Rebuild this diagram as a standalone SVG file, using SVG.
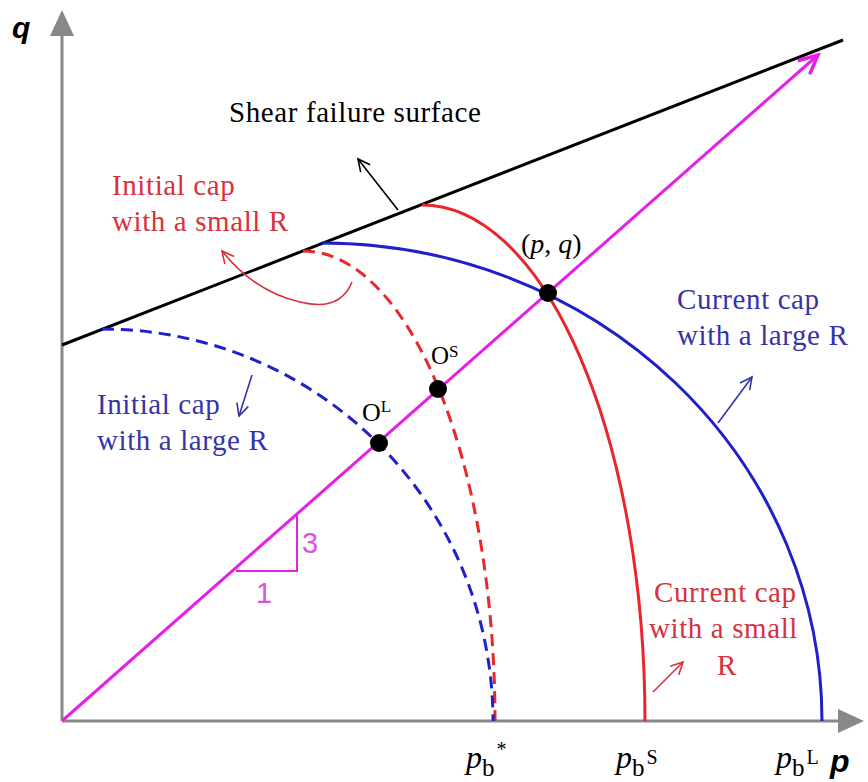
<svg xmlns="http://www.w3.org/2000/svg" width="868" height="782" viewBox="0 0 868 782">
<style>
.serif{font-family:"Liberation Serif","Times New Roman",serif;}
.lbl{font-size:29px;letter-spacing:0.6px;}
.red{fill:#d8303c;}
.blue{fill:#3434a8;}
.curveR{fill:none;stroke:#e8262b;stroke-width:3;}
.curveB{fill:none;stroke:#1f1fcc;stroke-width:3;}
.dash{stroke-dasharray:12 7;}
.thin{fill:none;stroke-width:1.6;}
.dot{fill:#000;}
</style>
<defs>
<marker id="vBlack" markerUnits="userSpaceOnUse" markerWidth="16" markerHeight="16" viewBox="0 0 16 16" refX="14" refY="8" orient="auto"><path d="M2,2 L14,8 L2,14" fill="none" stroke="#000" stroke-width="1.6"/></marker>
<marker id="vRed" markerUnits="userSpaceOnUse" markerWidth="16" markerHeight="16" viewBox="0 0 16 16" refX="14" refY="8" orient="auto"><path d="M2,2 L14,8 L2,14" fill="none" stroke="#d8303c" stroke-width="1.6"/></marker>
<marker id="vBlue" markerUnits="userSpaceOnUse" markerWidth="16" markerHeight="16" viewBox="0 0 16 16" refX="14" refY="8" orient="auto"><path d="M2,2 L14,8 L2,14" fill="none" stroke="#3434a8" stroke-width="1.6"/></marker>
<marker id="vMag" markerUnits="userSpaceOnUse" markerWidth="26" markerHeight="26" viewBox="0 0 26 26" refX="23" refY="13" orient="auto"><path d="M4,4 L23,13 L4,22" fill="none" stroke="#e61ee6" stroke-width="3.5"/></marker>
</defs>
<rect width="868" height="782" fill="#fff"/>

<g id="axes">
<line x1="62" y1="721" x2="62" y2="33" stroke="#888" stroke-width="3"/>
<polygon points="62,10 50,36 74,36" fill="#888"/>
<line x1="62" y1="721" x2="840" y2="721" stroke="#888" stroke-width="3"/>
<polygon points="864,721 838,709 838,733" fill="#888"/>
<text x="12" y="38" font-family="'Liberation Sans',Arial,sans-serif" font-size="30" font-weight="bold" font-style="italic">q</text>
<text x="830" y="772" font-family="'Liberation Sans',Arial,sans-serif" font-size="32" font-weight="bold" font-style="italic">p</text>
</g>

<g id="connectors">
<line id="shear-line" x1="62" y1="345" x2="843" y2="40" stroke="#000" stroke-width="3"/>
<line id="stress-path" x1="62" y1="721" x2="818" y2="55" stroke="#e61ee6" stroke-width="3" marker-end="url(#vMag)"/>
<path id="cap-current-small" class="curveR" d="M 422 205 A 223 516 0 0 1 645 721"/>
<path id="cap-current-large" class="curveB" d="M 322 243 A 500 478 0 0 1 822 721"/>
<path id="cap-initial-small" class="curveR dash" d="M 303 251 A 192 470 0 0 1 495 721"/>
<path id="cap-initial-large" class="curveB dash" d="M 102 329 A 391 392 0 0 1 493 721"/>
<line x1="398" y1="210" x2="358" y2="159" stroke="#000" class="thin" marker-end="url(#vBlack)"/>
<path d="M 352 282 Q 340 312 300 302 Q 255 292 222 251" stroke="#d8303c" class="thin" marker-end="url(#vRed)"/>
<line x1="252" y1="375" x2="239" y2="416" stroke="#3434a8" class="thin" marker-end="url(#vBlue)"/>
<line x1="718" y1="423" x2="752" y2="377" stroke="#3434a8" class="thin" marker-end="url(#vBlue)"/>
<line x1="653" y1="692" x2="683" y2="662" stroke="#d8303c" class="thin" marker-end="url(#vRed)"/>
<path id="slope-triangle" d="M 297 515 L 297 571 L 236 571" fill="none" stroke="#e61ee6" stroke-width="2"/>
</g>

<g id="point-pq"><circle class="dot" cx="548" cy="293" r="9"/>
<text class="serif" x="521" y="253" font-size="28">(<tspan font-style="italic">p</tspan>, <tspan font-style="italic">q</tspan>)</text></g>
<g id="point-OS"><circle class="dot" cx="438" cy="389" r="9"/>
<text class="serif" x="431" y="364" font-size="25">O<tspan font-size="17" dy="-7">S</tspan></text></g>
<g id="point-OL"><circle class="dot" cx="379" cy="443" r="9"/>
<text class="serif" x="362" y="421" font-size="26">O<tspan font-size="17" dy="-9">L</tspan></text></g>

<g id="label-shear"><text class="serif lbl" x="229" y="122" fill="#000">Shear failure surface</text></g>
<g id="label-initial-small"><text class="serif lbl red" x="112" y="195">Initial cap</text><text class="serif lbl red" x="112" y="231">with a small R</text></g>
<g id="label-initial-large"><text class="serif lbl blue" x="97" y="414">Initial cap</text><text class="serif lbl blue" x="97" y="450">with a large R</text></g>
<g id="label-current-large"><text class="serif lbl blue" x="677" y="309">Current cap</text><text class="serif lbl blue" x="677" y="345">with a large R</text></g>
<g id="label-current-small"><text class="serif lbl red" x="654" y="602">Current cap</text><text class="serif lbl red" x="649" y="638">with a small</text><text class="serif lbl red" x="717" y="675">R</text></g>
<g id="slope-labels" font-family="'Liberation Sans',Arial,sans-serif" font-size="29" fill="#e050e0"><text x="302" y="553">3</text><text x="256" y="603">1</text></g>

<g id="label-pb-star"><text class="serif" x="466" y="768" font-size="32"><tspan font-style="italic">p</tspan><tspan font-size="25" dy="8">b</tspan><tspan font-size="20" dy="-20" dx="2">*</tspan></text></g>
<g id="label-pb-S"><text class="serif" x="616" y="768" font-size="32"><tspan font-style="italic">p</tspan><tspan font-size="25" dy="8">b</tspan><tspan font-size="20" dy="-12" dx="2">S</tspan></text></g>
<g id="label-pb-L"><text class="serif" x="776" y="768" font-size="32"><tspan font-style="italic">p</tspan><tspan font-size="25" dy="8">b</tspan><tspan font-size="20" dy="-12" dx="2">L</tspan></text></g>
</svg>
